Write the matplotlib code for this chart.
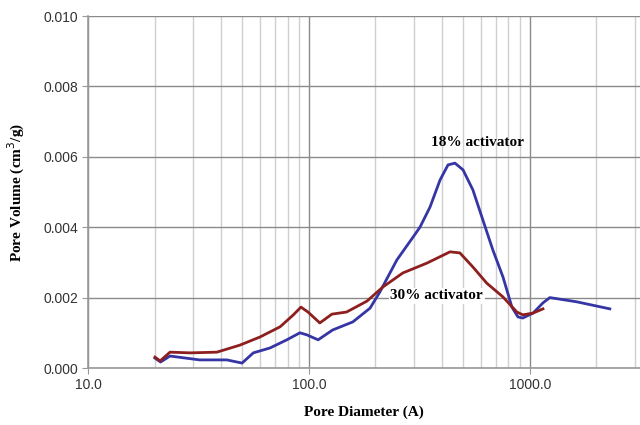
import matplotlib
matplotlib.use("Agg")
import matplotlib.pyplot as plt
from matplotlib.ticker import FixedLocator, FormatStrFormatter, LogLocator, NullFormatter

# 18% activator (blue)
d18 = [20.1, 21.3, 23.5, 32, 42.5, 49.8, 56, 66.7, 79.4, 91, 98, 110, 128, 158, 189,
       209, 250, 296, 318, 353, 392, 426, 458, 498, 552, 613, 680, 755, 829, 883, 929,
       1033, 1146, 1231, 1630, 2300]
v18 = [0.00028, 0.00017, 0.00034, 0.00023, 0.00023, 0.00014, 0.00043, 0.00057, 0.00080,
       0.00100, 0.00094, 0.00080, 0.00108, 0.00131, 0.00170, 0.00215, 0.00307, 0.00372,
       0.00400, 0.00457, 0.00534, 0.00577, 0.00582, 0.00563, 0.00506, 0.00420, 0.00335,
       0.00259, 0.00173, 0.00145, 0.00142, 0.00156, 0.00185, 0.00200, 0.00188, 0.00168]

# 30% activator (red)
d30 = [20.1, 21.2, 23.5, 29, 38.3, 48.7, 60, 74, 84.7, 92, 99, 112, 127, 148, 183, 216,
       266, 342, 435, 482, 552, 638, 755, 873, 929, 1033, 1146]
v30 = [0.00031, 0.00020, 0.00045, 0.00043, 0.00045, 0.00065, 0.00088, 0.00117, 0.00150,
       0.00173, 0.00159, 0.00128, 0.00153, 0.00159, 0.00190, 0.00230, 0.00270, 0.00298,
       0.00330, 0.00327, 0.00287, 0.00241, 0.00202, 0.00159, 0.00151, 0.00156, 0.00168]

fig = plt.figure(figsize=(6.4, 4.25), dpi=100)
ax = fig.add_axes([88 / 640, 1 - 368 / 425, 1 - 88 / 640, (368 - 16) / 425])

ax.plot(d18, v18, color="#3535a5", lw=2.0, zorder=3, solid_joinstyle="round")
ax.plot(d30, v30, color="#8e1f1f", lw=2.0, zorder=4, solid_joinstyle="round")

ax.set_xscale("log")
ax.set_xlim(10, 3150)
ax.set_ylim(0, 0.010)

ax.xaxis.set_major_locator(FixedLocator([10, 100, 1000]))
ax.xaxis.set_major_formatter(FormatStrFormatter("%.1f"))
ax.xaxis.set_minor_locator(LogLocator(base=10, subs=range(2, 10)))
ax.xaxis.set_minor_formatter(NullFormatter())
ax.set_yticks([0, 0.002, 0.004, 0.006, 0.008, 0.010])
ax.yaxis.set_major_formatter(FormatStrFormatter("%.3f"))

ax.grid(which="major", axis="both", color="#8a8a8a", lw=1.0, zorder=1)
ax.grid(which="minor", axis="x", color="#cfcfcf", lw=1.0, zorder=0)
ax.set_axisbelow(True)

for s in ["top", "right"]:
    ax.spines[s].set_visible(False)
for s in ["left", "bottom"]:
    ax.spines[s].set_color("#999999")
    ax.spines[s].set_linewidth(1.2)

ax.tick_params(which="major", length=4, color="#999999", labelsize=10,
               labelcolor="#333333", pad=3)
ax.tick_params(which="minor", length=0)
for lab in ax.get_xticklabels() + ax.get_yticklabels():
    lab.set_family("Liberation Sans")

serif = {"family": "Liberation Serif", "weight": "bold"}
ax.set_xlabel("Pore Diameter (A)", fontsize=11, labelpad=10, **serif)
ax.set_ylabel("Pore Volume (cm$^3$/g)", fontsize=11, labelpad=12, **serif)

ax.text(582, 0.00640, "18% activator", fontsize=11, ha="center", va="center",
        zorder=5, **serif)
ax.text(379, 0.00205, "30% activator", fontsize=11, ha="center", va="center",
        zorder=5, bbox=dict(facecolor="white", edgecolor="none", pad=1), **serif)

fig.savefig("out.png", dpi=100)
